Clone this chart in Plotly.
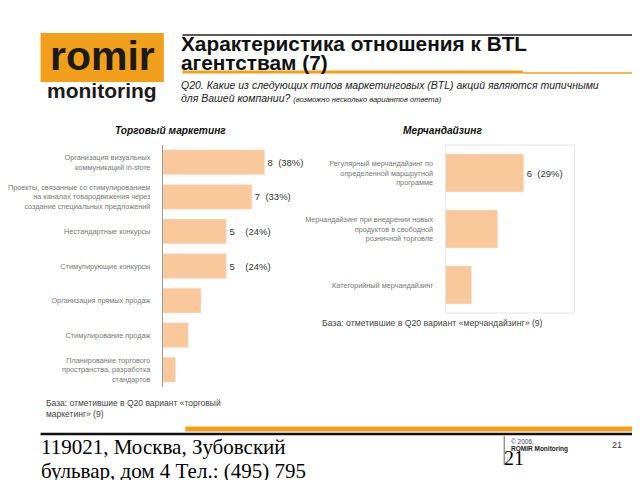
import plotly.graph_objects as go

# Торговый маркетинг
trade_labels = [
    "Организация визуальных<br>коммуникаций in-store",
    "Проекты, связанные со стимулированием<br>на каналах товародвижения через<br>создание специальных предложений",
    "Нестандартные конкурсы",
    "Стимулирующие конкурсы",
    "Организация прямых продаж",
    "Стимулирование продаж",
    "Планирование торгового<br>пространства, разработка<br>стандартов",
]
trade_values = [8, 7, 5, 5, 3, 2, 1]
trade_text = ["8  (38%)", "7  (33%)", "5    (24%)", "5    (24%)", "", "", ""]

# Мерчандайзинг
merch_labels = [
    "Регулярный мерчандайзинг по<br>определенной маршрутной<br>программе",
    "Мерчандайзинг при внедрении новых<br>продуктов в свободной<br>розничной торговле",
    "Категорийный мерчандайзинг",
]
merch_values = [6, 4, 2]
merch_text = ["6  (29%)", "", ""]

W, H = 640, 480
OFF = 8  # page body margin
BAR = "#F9C99B"
ORANGE = "#F29F1C"
SANS = "Liberation Sans, Arial, sans-serif"
SERIF = "Liberation Serif, serif"


def px(x):
    return (x - OFF) / W


def py(y):
    return 1 - (y - OFF) / H


fig = go.Figure()
fig.add_trace(go.Bar(
    y=trade_labels, x=trade_values, orientation="h", marker_color=BAR,
    text=trade_text, textposition="outside", cliponaxis=False,
    textfont=dict(size=9.5, color="#333", family=SANS),
    xaxis="x", yaxis="y", width=0.72,
))
fig.add_trace(go.Bar(
    y=merch_labels, x=merch_values, orientation="h", marker_color=BAR,
    text=merch_text, textposition="outside", cliponaxis=False,
    textfont=dict(size=9.5, color="#333", family=SANS),
    xaxis="x2", yaxis="y2", width=0.68,
))

axis_common = dict(showgrid=False, zeroline=False, showticklabels=False, fixedrange=True)
ycommon = dict(autorange="reversed", showgrid=False, ticks="", showline=True,
               linecolor="#999", linewidth=1, ticklabelstandoff=10,
               tickfont=dict(size=7.3, color="#777", family=SANS))

fig.update_layout(
    width=W, height=H, margin=dict(l=0, r=0, t=0, b=0),
    paper_bgcolor="white", plot_bgcolor="white", showlegend=False,
    xaxis=dict(domain=[px(152), px(282)], range=[0, 10], **axis_common),
    yaxis=dict(domain=[py(387), py(145)], anchor="x", **ycommon),
    xaxis2=dict(domain=[px(441), px(573)], range=[0, 9.9], anchor="y2", **axis_common),
    yaxis2=dict(domain=[py(313), py(145)], anchor="x2", **ycommon),
)


def hline(x0, x1, y, color, width):
    return dict(type="line", xref="paper", yref="paper", x0=px(x0), x1=px(x1), y0=py(y), y1=py(y),
                line=dict(color=color, width=width))


shapes = [
    dict(type="rect", xref="paper", yref="paper", x0=px(441), x1=px(573), y0=py(313), y1=py(145),
         line=dict(color="#e6e6e6", width=1)),
    dict(type="rect", xref="paper", yref="paper", x0=px(27), x1=px(153), y0=py(82), y1=py(33),
         fillcolor=ORANGE, line_width=0),
    hline(172, 648, 35, "#222", 1.5),
    hline(172, 520, 72, ORANGE, 3),
    hline(520, 648, 73, ORANGE, 1.5),
    hline(175, 634, 429, ORANGE, 5),
    hline(27, 634, 434, "#111", 2.5),
    dict(type="line", xref="paper", yref="paper", x0=px(501), x1=px(501), y0=py(436), y1=py(465),
         line=dict(color="#666", width=1)),
]
fig.update_layout(shapes=shapes)


def note(x, y, text, size, color="#000", family=SANS, xanchor="left", yanchor="middle", **kw):
    fig.add_annotation(xref="paper", yref="paper", x=px(x), y=py(y), text=text, showarrow=False,
                       xanchor=xanchor, yanchor=yanchor, align="left", borderpad=0,
                       font=dict(size=size, color=color, family=family), **kw)


note(90, 56, "<b>romir</b>", 41, color="#1a1a1a", xanchor="center")
note(90, 90, "<b>monitoring</b>", 21, color="#1a1a1a", xanchor="center")
note(170, 44, "<b>Характеристика отношения к BTL</b>", 20.8, color="#111")
note(170, 62, "<b>агентствам (7)</b>", 20.8, color="#111")
note(170, 85, "<i>Q20. Какие из следующих типов маркетинговых (BTL) акций являются типичными</i>",
     10.5, color="#222")
note(170, 98, "<i>для Вашей компании? <span style='font-size:7.5px'>(возможно несколько вариантов ответа)</span></i>",
     10.5, color="#222")
note(160, 130, "<b><i>Торговый маркетинг</i></b>", 10.2, color="#111", xanchor="center")
note(438, 131, "<b><i>Мерчандайзинг</i></b>", 10.2, color="#111", xanchor="center")
note(32, 403, "База: отметившие в Q20 вариант «торговый", 8.5, color="#444")
note(32, 414, "маркетинг» (9)", 8.5, color="#444")
note(314, 323, "База: отметившие в Q20 вариант «мерчандайзинг» (9)", 8.7, color="#444")
note(26, 447, "119021, Москва, Зубовский", 21, family=SERIF)
note(26, 471, "бульвар, дом 4 Тел.: (495) 795", 21, family=SERIF)
note(507, 441, "© 2006,", 6.5, color="#444")
note(507, 449, "<b>ROMIR Monitoring</b>", 6.5, color="#222")
note(616, 445, "21", 9, color="#333", xanchor="center")
note(500, 458, "21", 20, family=SERIF)

fig.write_html("out.html")
